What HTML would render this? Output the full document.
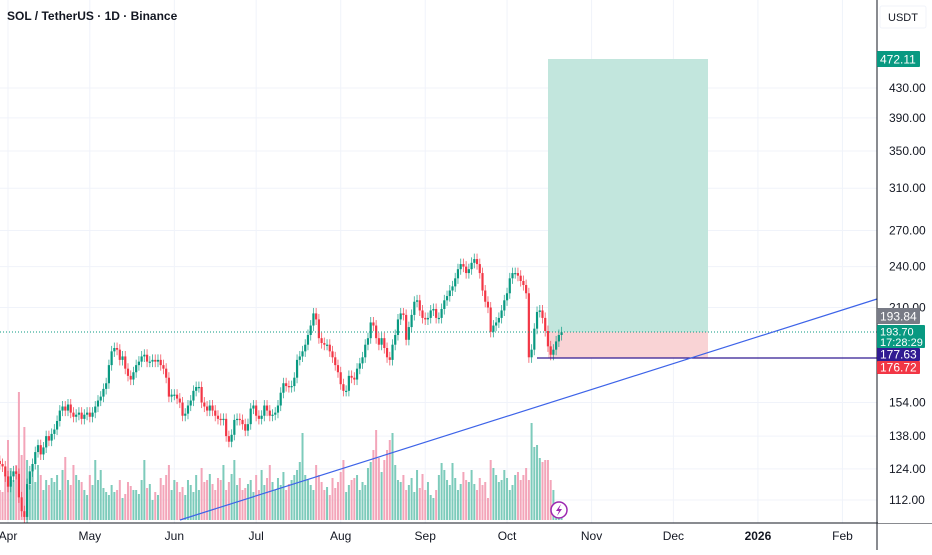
<!DOCTYPE html>
<html><head><meta charset="utf-8"><style>
html,body{margin:0;padding:0;background:#fff;}
body{width:932px;height:550px;overflow:hidden;font-family:"Liberation Sans",sans-serif;}
svg text{font-family:"Liberation Sans",sans-serif;}
</style></head><body>
<svg id="chart" width="932" height="550" viewBox="0 0 932 550" xmlns="http://www.w3.org/2000/svg">
<rect x="0" y="0" width="932" height="550" fill="#ffffff"/>
<g id="grid"></g>
<g id="rr">
  <rect x="548" y="59" width="160" height="273" fill="#c2e6dd"/>
  <rect x="548" y="332" width="160" height="26" fill="#f9d3d5"/>
</g>
<g id="vol"></g>
<g id="candles"></g>
<line x1="0" y1="332" x2="877" y2="332" stroke="#089981" stroke-width="1" stroke-dasharray="1,2"/>
<line x1="537" y1="358" x2="877" y2="358" stroke="#311b92" stroke-width="1.2"/>
<line x1="180" y1="520" x2="877" y2="299" stroke="#3d63e8" stroke-width="1.2"/>
<g>
  <circle cx="559" cy="510" r="8" fill="#fff" stroke="#9c27b0" stroke-width="1.5"/>
  <path d="M561 504 L556 511 L559 511 L557 516 L562 509 L559 509 Z" fill="#9c27b0"/>
</g>
<line x1="877" y1="0" x2="877" y2="550" stroke="#131722" stroke-width="1"/>
<line x1="0" y1="523" x2="932" y2="523" stroke="#131722" stroke-width="1"/>
<rect x="878" y="0" width="54" height="523" fill="#fff"/>
<rect x="878" y="524" width="54" height="26" fill="#fff"/>
<rect x="0" y="524" width="876" height="26" fill="#fff"/>
<g id="yaxis"></g>
<g id="xaxis"></g>
<g>
  <rect x="880" y="6" width="46" height="22" rx="2" fill="#fff" stroke="#f0f3fa"/>
  <text x="888" y="21" font-size="11" fill="#131722">USDT</text>
</g>
<g>
  <rect x="877" y="51" width="43" height="16" rx="1" fill="#089981"/>
  <text x="880" y="63.5" font-size="12" fill="#fff">472.11</text>
</g>
<g>
  <rect x="877" y="308" width="43" height="16" rx="1" fill="#787b86"/>
  <text x="880" y="320.5" font-size="12" fill="#fff">193.84</text>
</g>
<g>
  <rect x="877" y="325" width="48" height="23" rx="1" fill="#089981"/>
  <text x="880" y="335.5" font-size="11" fill="#fff">193.70</text>
  <text x="880" y="346" font-size="11" fill="#fff">17:28:29</text>
</g>
<g>
  <rect x="877" y="348" width="43" height="13" rx="1" fill="#311b92"/>
  <text x="880" y="358.5" font-size="12" fill="#fff">177.63</text>
</g>
<g>
  <rect x="877" y="361" width="43" height="13" rx="1" fill="#f23645"/>
  <text x="880" y="371.5" font-size="12" fill="#fff">176.72</text>
</g>
<text x="7" y="20" font-size="12" font-weight="bold" fill="#131722">SOL / TetherUS · 1D · Binance</text>
</svg>
<script>
const priceTicks = [430, 390, 350, 310, 270, 240, 210, 154, 138, 124, 112];
const monthLabels = ["Apr","May","Jun","Jul","Aug","Sep","Oct","Nov","Dec","2026","Feb"];
const monthDays = [0, 30, 61, 91, 122, 153, 183, 214, 244, 275, 306];
const closes = [
126,125,121,117,121,123,122,113,108,106,
118,123,126,131,134,130,133,138,136,139,
141,145,150,152,150,153,149,147,148,149,
146,148,149,147,149,152,155,157,161,164,
174,182,184,183,177,179,172,168,166,170,
174,176,179,180,176,176,177,176,177,174,
172,167,157,158,158,156,154,147.5,148.5,152.5,
155,160,162,162,154,152,150,152.5,150,147.5,
146,145.5,146,138,135.5,138.6,145.5,146,145.5,143.5,
140.5,143.5,151,152.5,147.5,146,147.5,152.5,150,147.5,
148,149,152.5,159,164,162.5,162,162.5,167,177,
179,182,186,192,198,206,202,190,187,186,
186,182,178.5,174,170,163.5,160,160,168,167,
166,172,175,178.5,186,190,200,198,190,186,
190,184,178.5,177,186,192,202,206,205,189,
197,205,214,215,208,203,202,203,208,209,
203,203,209,215,218,222,225,231,238,242,
240,235,238,243,246,242,235,222,214,210,
194,198,200,203,208,215,220,231,235,235,
233,229,226,220,178.5,183,196,207,208,203,
194.5,185,180,183,188,192,193.7
];
const volumes = [
30,28,45,80,52,40,55,128,65,93,
60,35,50,38,55,45,30,40,35,42,
38,45,30,50,63,40,35,55,45,40,
38,30,25,45,35,60,40,50,32,28,
25,35,28,30,40,22,26,38,34,30,
30,26,40,60,32,36,20,28,25,42,
35,45,55,30,40,38,28,33,25,40,
35,28,45,30,52,38,40,46,36,30,
42,40,55,30,38,46,60,35,42,30,
32,36,40,28,45,30,50,35,42,55,
38,30,42,35,48,30,36,40,45,50,
58,87,45,40,35,30,55,45,38,30,
33,25,42,32,38,48,60,28,35,40,
42,45,30,38,35,52,58,70,90,62,
48,60,70,80,87,55,40,38,45,30,
35,42,28,50,32,46,30,38,25,22,
30,45,57,50,40,35,57,42,30,36,
48,40,38,50,36,30,42,35,38,22,
60,52,45,38,40,50,42,30,35,45,
48,40,45,52,40,97,73,75,62,58,
60,60,40,30,18,15,12
];
const NS = "http://www.w3.org/2000/svg";
const PX_PER_DAY = 2.727, APR1_X = 8, START_OFFSET = -3;
function xOfDay(d){ return APR1_X + d*PX_PER_DAY; }
function xOfIndex(i){ return xOfDay(i + START_OFFSET); }
function yOfPrice(p){ return 88 - 306.3*Math.log(p/430); }
function yOfVol(v){ return 520 - v; }
function mk(tag, attrs, parent){ const e=document.createElementNS(NS,tag); for(const k in attrs) e.setAttribute(k, attrs[k]); parent.appendChild(e); return e; }

const grid=document.getElementById('grid'), yaxis=document.getElementById('yaxis'), xaxis=document.getElementById('xaxis');
priceTicks.forEach(p=>{
  const y=yOfPrice(p);
  const gl=mk('line',{x1:0,y1:y,x2:877,y2:y,stroke:'#f0f3fa','stroke-width':1},grid);
  
  
  const t=mk('text',{x:889,y:y+4,'font-size':12,fill:'#131722'},yaxis);
  
  
  t.textContent=p.toFixed(2);
});
monthLabels.forEach((m,i)=>{
  const x=xOfDay(monthDays[i]);
  const gl=mk('line',{x1:x,y1:0,x2:x,y2:523,stroke:'#f0f3fa','stroke-width':1},grid);
  
  
  const t=mk('text',{x:x,y:540,'font-size':12,fill:'#131722','text-anchor':'middle','font-weight':m==='2026'?'bold':'normal'},xaxis);
  
  
  t.textContent=m;
});

const vg=document.getElementById('vol'), cg=document.getElementById('candles');
closes.forEach((c,i)=>{
  const o = i>0 ? closes[i-1] : c*1.01;
  const up = c>=o;
  const x = xOfIndex(i);
  const v = volumes[i];
  const vb=mk('rect',{x:x-1,y:yOfVol(v),width:2,height:v,fill:up?'#7dcbbb':'#f3a5b9'},vg);
  
  
  const hi=Math.max(o,c)*1.018, lo=Math.min(o,c)*0.982;
  const col=up?'#089981':'#f23645';
  const w=mk('line',{x1:x,y1:yOfPrice(hi),x2:x,y2:yOfPrice(lo),stroke:col,'stroke-width':0.9,opacity:0.75},cg);
  
  
  const yt=yOfPrice(Math.max(o,c)), yb=yOfPrice(Math.min(o,c));
  const b=mk('rect',{x:x-1.1,y:yt,width:2.2,height:Math.max(1.2,yb-yt),fill:col},cg);
  
  
});
</script>
</body></html>
